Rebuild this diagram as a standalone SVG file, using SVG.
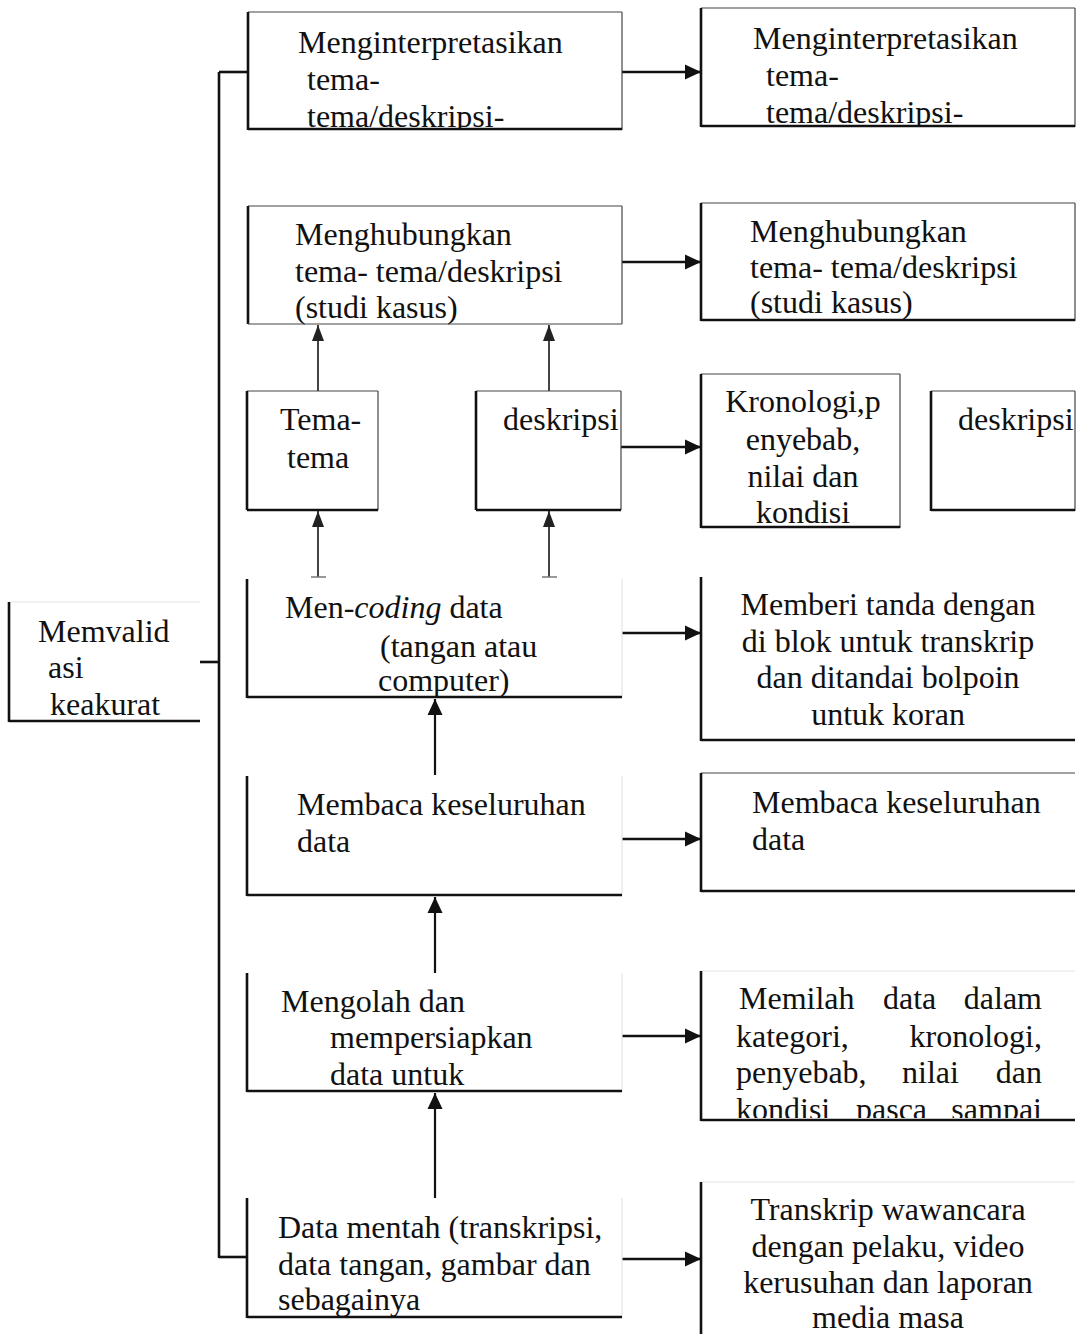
<svg xmlns="http://www.w3.org/2000/svg" width="1077" height="1334" viewBox="0 0 1077 1334">
<style>
text{font-family:"Liberation Serif","Times New Roman",serif;font-size:32px;fill:#111}
.c{text-anchor:middle}
.thin{stroke:#444;stroke-width:1.2}
.faint{stroke:#e4e4e4;stroke-width:1.2}
.thick{stroke:#111;stroke-width:2.6}
.bg{fill:#fff}
.conn{stroke:#111;stroke-width:2.6;fill:none}
.vconn{stroke:#111;stroke-width:2.2;fill:none}
.gconn{stroke:#444;stroke-width:2;fill:none}
</style>
<defs>
<marker id="ah" markerUnits="userSpaceOnUse" markerWidth="18" markerHeight="18" viewBox="0 0 18 18" refX="17" refY="9" orient="auto">
<path d="M1,1.5 L17,9 L1,16.5 Z" fill="#111"/>
</marker>
<marker id="ahg" markerUnits="userSpaceOnUse" markerWidth="18" markerHeight="18" viewBox="0 0 18 18" refX="17" refY="9" orient="auto">
<path d="M1,3 L17,9 L1,15 Z" fill="#222"/>
</marker>
<clipPath id="c1"><rect x="248" y="12" width="374" height="116"/></clipPath>
<clipPath id="c1r"><rect x="701" y="8" width="374" height="117"/></clipPath>
<clipPath id="cmil"><rect x="701" y="971" width="374" height="147"/></clipPath>
<clipPath id="cdm"><rect x="247" y="1198" width="375" height="118"/></clipPath>
</defs>

<g id="connectors">
<line class="conn" x1="219" y1="72" x2="219" y2="1258"/>
<line class="conn" x1="219" y1="72" x2="248" y2="72"/>
<line class="conn" x1="219" y1="1257" x2="247" y2="1257"/>
<line class="conn" x1="200" y1="662" x2="219" y2="662"/>
<line class="conn" x1="622" y1="72" x2="701" y2="72" marker-end="url(#ah)"/>
<line class="conn" x1="622" y1="262" x2="701" y2="262" marker-end="url(#ah)"/>
<line class="conn" x1="621" y1="447" x2="701" y2="447" marker-end="url(#ah)"/>
<line class="conn" x1="622" y1="633" x2="701" y2="633" marker-end="url(#ah)"/>
<line class="conn" x1="622" y1="839" x2="701" y2="839" marker-end="url(#ah)"/>
<line class="conn" x1="622" y1="1036" x2="701" y2="1036" marker-end="url(#ah)"/>
<line class="conn" x1="622" y1="1259" x2="701" y2="1259" marker-end="url(#ah)"/>
<line class="gconn" x1="318" y1="391" x2="318" y2="325" marker-end="url(#ahg)"/>
<line class="gconn" x1="549" y1="391" x2="549" y2="325" marker-end="url(#ahg)"/>
<line class="gconn" x1="318" y1="577" x2="318" y2="511" marker-end="url(#ahg)"/>
<line class="gconn" x1="549" y1="577" x2="549" y2="511" marker-end="url(#ahg)"/>
<line class="gconn" x1="311" y1="577" x2="326" y2="577" style="stroke:#777;stroke-width:1.5"/>
<line class="gconn" x1="542" y1="577" x2="557" y2="577" style="stroke:#777;stroke-width:1.5"/>
<line class="vconn" x1="435" y1="775" x2="435" y2="699" marker-end="url(#ah)"/>
<line class="vconn" x1="435" y1="973" x2="435" y2="897" marker-end="url(#ah)"/>
<line class="vconn" x1="435" y1="1198" x2="435" y2="1093" marker-end="url(#ah)"/>
</g>

<g id="n-interp-l">
<rect class="bg" x="248" y="12" width="374" height="118"/>
<g clip-path="url(#c1)">
<text x="298" y="53">Menginterpretasikan</text>
<text x="307" y="90">tema-</text>
<text x="307" y="127">tema/deskripsi-</text>
</g>
<line class="thin" x1="248" y1="12" x2="622" y2="12"/><line class="thin" x1="622" y1="12" x2="622" y2="130"/>
<line class="thick" x1="248" y1="12" x2="248" y2="130"/><line class="thick" x1="248" y1="129" x2="622" y2="129"/>
</g>

<g id="n-interp-r">
<rect class="bg" x="701" y="8" width="374" height="119"/>
<g clip-path="url(#c1r)">
<text x="753" y="49">Menginterpretasikan</text>
<text x="766" y="86">tema-</text>
<text x="766" y="123">tema/deskripsi-</text>
</g>
<line class="thin" x1="701" y1="8" x2="1075" y2="8"/><line class="thin" x1="1075" y1="8" x2="1075" y2="127"/>
<line class="thick" x1="701" y1="8" x2="701" y2="127"/><line class="thick" x1="701" y1="126" x2="1075" y2="126"/>
</g>

<g id="n-hub-l">
<rect class="bg" x="248" y="206" width="374" height="118"/>
<text x="295" y="245">Menghubungkan</text>
<text x="295" y="282">tema- tema/deskripsi</text>
<text x="295" y="318">(studi kasus)</text>
<line class="thin" x1="248" y1="206" x2="622" y2="206"/><line class="thin" x1="622" y1="206" x2="622" y2="324"/>
<line class="thick" x1="248" y1="206" x2="248" y2="324"/><line class="thin" x1="248" y1="324" x2="622" y2="324"/>
</g>

<g id="n-hub-r">
<rect class="bg" x="701" y="203" width="374" height="118"/>
<text x="750" y="242">Menghubungkan</text>
<text x="750" y="278">tema- tema/deskripsi</text>
<text x="750" y="313">(studi kasus)</text>
<line class="thin" x1="701" y1="203" x2="1075" y2="203"/><line class="thin" x1="1075" y1="203" x2="1075" y2="321"/>
<line class="thick" x1="701" y1="203" x2="701" y2="321"/><line class="thick" x1="701" y1="320" x2="1075" y2="320"/>
</g>

<g id="n-tema">
<rect class="bg" x="247" y="391" width="131" height="119"/>
<text x="280" y="430">Tema-</text>
<text x="287" y="468">tema</text>
<line class="thin" x1="247" y1="391" x2="378" y2="391"/><line class="thin" x1="378" y1="391" x2="378" y2="510"/>
<line class="thick" x1="247" y1="391" x2="247" y2="510"/><line class="thick" x1="247" y1="510" x2="378" y2="510"/>
</g>

<g id="n-desk-l">
<rect class="bg" x="476" y="391" width="145" height="119"/>
<text x="503" y="430">deskripsi</text>
<line class="thin" x1="476" y1="391" x2="621" y2="391"/><line class="thin" x1="621" y1="391" x2="621" y2="510"/>
<line class="thick" x1="476" y1="391" x2="476" y2="510"/><line class="thick" x1="476" y1="510" x2="621" y2="510"/>
</g>

<g id="n-kron">
<rect class="bg" x="701" y="374" width="199" height="154"/>
<text class="c" x="803" y="412">Kronologi,p</text>
<text class="c" x="803" y="450">enyebab,</text>
<text class="c" x="803" y="487">nilai dan</text>
<text class="c" x="803" y="523">kondisi</text>
<line class="thin" x1="701" y1="374" x2="900" y2="374"/><line class="thin" x1="900" y1="374" x2="900" y2="528"/>
<line class="thick" x1="701" y1="374" x2="701" y2="528"/><line class="thick" x1="701" y1="527" x2="900" y2="527"/>
</g>

<g id="n-desk-r">
<rect class="bg" x="931" y="391" width="144" height="120"/>
<text x="958" y="430">deskripsi</text>
<line class="thin" x1="931" y1="391" x2="1075" y2="391"/><line class="thin" x1="1075" y1="391" x2="1075" y2="511"/>
<line class="thick" x1="931" y1="391" x2="931" y2="511"/><line class="thick" x1="931" y1="510" x2="1075" y2="510"/>
</g>

<g id="n-memvalid">
<rect class="bg" x="9" y="602" width="191" height="120"/>
<text x="38" y="642">Memvalid</text>
<text x="48" y="678">asi</text>
<text x="50" y="715">keakurat</text>
<line class="faint" x1="9" y1="602" x2="200" y2="602"/>
<line class="thick" x1="9" y1="602" x2="9" y2="722"/><line class="thick" x1="9" y1="721" x2="200" y2="721"/>
</g>

<g id="n-coding">
<rect class="bg" x="247" y="579" width="375" height="119"/>
<text x="285" y="618">Men-<tspan font-style="italic">coding</tspan> data</text>
<text x="380" y="657">(tangan atau</text>
<text x="378" y="691">computer)</text>
<line class="faint" x1="622" y1="579" x2="622" y2="698"/>
<line class="thick" x1="247" y1="579" x2="247" y2="698"/><line class="thick" x1="247" y1="697" x2="622" y2="697"/>
</g>

<g id="n-memberi">
<rect class="bg" x="701" y="577" width="374" height="164"/>
<text class="c" x="888" y="615">Memberi tanda dengan</text>
<text class="c" x="888" y="652">di blok untuk transkrip</text>
<text class="c" x="888" y="688">dan ditandai bolpoin</text>
<text class="c" x="888" y="725">untuk koran</text>
<line class="thick" x1="701" y1="577" x2="701" y2="741"/><line class="thick" x1="701" y1="740" x2="1075" y2="740"/>
</g>

<g id="n-baca-l">
<rect class="bg" x="247" y="776" width="375" height="120"/>
<text x="297" y="815">Membaca keseluruhan</text>
<text x="297" y="852">data</text>
<line class="faint" x1="622" y1="776" x2="622" y2="896"/>
<line class="thick" x1="247" y1="776" x2="247" y2="896"/><line class="thick" x1="247" y1="895" x2="622" y2="895"/>
</g>

<g id="n-baca-r">
<rect class="bg" x="701" y="773" width="374" height="119"/>
<text x="752" y="813">Membaca keseluruhan</text>
<text x="752" y="850">data</text>
<line class="thin" x1="701" y1="773" x2="1075" y2="773"/>
<line class="thick" x1="701" y1="773" x2="701" y2="892"/><line class="thick" x1="701" y1="891" x2="1075" y2="891"/>
</g>

<g id="n-olah">
<rect class="bg" x="247" y="973" width="375" height="119"/>
<text x="281" y="1012">Mengolah dan</text>
<text x="330" y="1048">mempersiapkan</text>
<text x="330" y="1085">data untuk</text>
<line class="faint" x1="622" y1="973" x2="622" y2="1092"/>
<line class="thick" x1="247" y1="973" x2="247" y2="1092"/><line class="thick" x1="247" y1="1091" x2="622" y2="1091"/>
</g>

<g id="n-memilah">
<rect class="bg" x="701" y="971" width="374" height="150"/>
<g clip-path="url(#cmil)">
<text x="739" y="1009">Memilah</text><text x="883" y="1009">data</text><text x="1042" y="1009" text-anchor="end">dalam</text>
<text x="736" y="1047">kategori,</text><text x="1042" y="1047" text-anchor="end">kronologi,</text>
<text x="736" y="1083">penyebab,</text><text x="902" y="1083">nilai</text><text x="1042" y="1083" text-anchor="end">dan</text>
<text x="736" y="1120">kondisi</text><text x="856" y="1120">pasca</text><text x="1042" y="1120" text-anchor="end">sampai</text>
</g>
<line class="faint" x1="701" y1="971" x2="1075" y2="971"/>
<line class="thick" x1="701" y1="971" x2="701" y2="1121"/><line class="thick" x1="701" y1="1120" x2="1075" y2="1120"/>
</g>

<g id="n-mentah">
<rect class="bg" x="247" y="1198" width="375" height="120"/>
<g clip-path="url(#cdm)">
<text x="278" y="1238">Data mentah (transkripsi,</text>
<text x="278" y="1275">data tangan, gambar dan</text>
<text x="278" y="1310">sebagainya</text>
</g>
<line class="faint" x1="622" y1="1198" x2="622" y2="1318"/>
<line class="thick" x1="247" y1="1198" x2="247" y2="1318"/><line class="thick" x1="247" y1="1317" x2="622" y2="1317"/>
</g>

<g id="n-transkrip">
<rect class="bg" x="701" y="1182" width="374" height="152"/>
<text class="c" x="888" y="1220">Transkrip wawancara</text>
<text class="c" x="888" y="1257">dengan pelaku, video</text>
<text class="c" x="888" y="1293">kerusuhan dan laporan</text>
<text class="c" x="888" y="1328">media masa</text>
<line class="faint" x1="701" y1="1182" x2="1075" y2="1182"/>
<line class="thick" x1="701" y1="1182" x2="701" y2="1334"/>
</g>
</svg>
